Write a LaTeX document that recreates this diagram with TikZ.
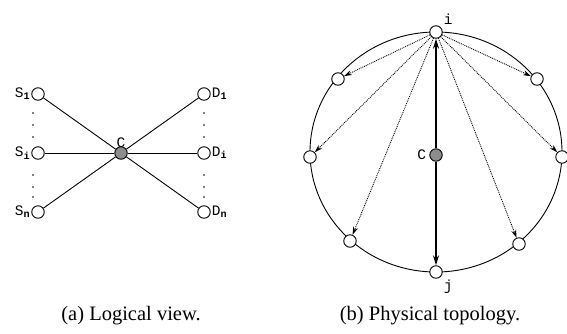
\documentclass[tikz,border=0pt]{standalone}
\usepackage{fontspec}
\setmainfont{Liberation Serif}
\setmonofont{Liberation Mono}
\usetikzlibrary{arrows.meta}
\begin{document}
\begin{tikzpicture}[x=1pt,y=-1pt,
  nd/.style={circle,draw,fill=white,minimum size=12.5pt,inner sep=0pt,line width=0.9pt},
  ctr/.style={nd,fill=black!45},
  lbl/.style={font=\ttfamily\fontsize{14.5}{14.5}\selectfont,inner sep=1pt},
  edge/.style={line width=0.9pt},
  bcast/.style={densely dotted,line width=0.9pt,-{Stealth[length=8pt,width=5pt]}},
  route/.style={line width=1.7pt,-{Stealth[length=10pt,width=6pt]}},
  captext/.style={font=\fontsize{20.5}{20.5}\selectfont,inner sep=0pt}
]
\useasboundingbox (0,0) rectangle (567,333);
% ---------- (a) logical view
\node[ctr] (c) at (121,153) {};
\node[nd] (s1) at (38,94) {};
\node[nd] (si) at (38,153) {};
\node[nd] (sn) at (38,212) {};
\node[nd] (d1) at (204,94) {};
\node[nd] (di) at (204,153) {};
\node[nd] (dn) at (204,212) {};
\foreach \n in {s1,si,sn,d1,di,dn} \draw[edge] (\n) -- (c);
\node[lbl,anchor=east] (ls1) at (s1.west) {S\textsubscript{\bfseries 1}};
\node[lbl,anchor=east] (lsi) at (si.west) {S\textsubscript{\bfseries i}};
\node[lbl,anchor=east] (lsn) at (sn.west) {S\textsubscript{\bfseries n}};
\node[lbl,anchor=west] (ld1) at (d1.east) {D\textsubscript{\bfseries 1}};
\node[lbl,anchor=west] (ldi) at (di.east) {D\textsubscript{\bfseries i}};
\node[lbl,anchor=west] (ldn) at (dn.east) {D\textsubscript{\bfseries n}};
\node[lbl,anchor=south] (lc) at ([yshift=-3pt]c.north) {C};
\foreach \y in {113,125,137,175,187,197} {
  \fill (33,\y) circle (0.9pt);
  \fill (204,\y) circle (0.9pt);
}
% ---------- (b) physical topology
\draw[line width=0.9pt] (436,152) ellipse (126pt and 120pt);
\node[ctr] (c2) at (436,155) {};
\node[nd] (i) at (436,32) {};
\node[nd] (j) at (436,272) {};
\node[nd] (ul) at (338,79) {};
\node[nd] (ur) at (537,79) {};
\node[nd] (l) at (310,157) {};
\node[nd] (r) at (562,157) {};
\node[nd] (bl) at (350,241) {};
\node[nd] (br) at (519,244) {};
\foreach \n in {ul,ur,l,r,bl,br} \draw[bcast] (i) -- (\n);
\draw[route] (c2) -- (i);
\draw[route] (c2) -- (j);
\node[lbl,anchor=east] (lc2) at ([xshift=-2pt]c2.west) {C};
\node[lbl,anchor=south west] (li) at ([xshift=2pt,yshift=2pt]i.north east) {i};
\node[lbl,anchor=north west] (lj) at ([xshift=2pt,yshift=-2pt]j.south east) {j};
% ---------- captions
\node[captext] (capa) at (131,316) {(a) Logical view.};
\node[captext] (capb) at (430,316) {(b) Physical topology.};
\end{tikzpicture}
\end{document}
